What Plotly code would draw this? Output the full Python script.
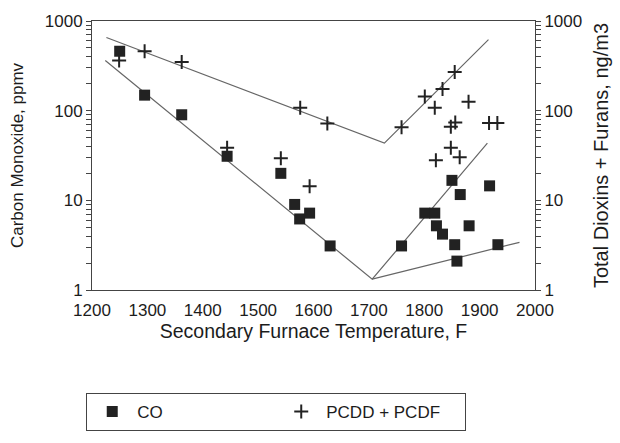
import plotly.graph_objects as go

# Carbon monoxide measurements (ppmv) vs secondary furnace temperature (F)
co_temp = [1250, 1295, 1362, 1444, 1541, 1566, 1575, 1593, 1630, 1759, 1801, 1819,
           1822, 1833, 1850, 1855, 1859, 1865, 1881, 1918, 1933]
co_ppmv = [460, 149, 90, 31, 20, 9.0, 6.2, 7.2, 3.1, 3.1, 7.2, 7.2,
           5.2, 4.2, 16.7, 3.2, 2.1, 11.6, 5.2, 14.5, 3.2]

# Total dioxins + furans (ng/m3) vs temperature
pc_temp = [1249, 1295, 1362, 1444, 1541, 1593, 1576, 1625, 1759, 1801, 1819,
           1833, 1855, 1880, 1848, 1856, 1848, 1864, 1821, 1917, 1932]
pc_ngm3 = [363, 460, 349, 38.7, 29.4, 14.4, 108, 72, 65.5, 144, 108,
           174, 270, 126, 66, 74, 38.7, 30.3, 28, 73, 73]

# Hand-fitted trend lines (temperature, value)
co_fit_temp = [1224, 1706, 1914]
co_fit_val = [363, 1.32, 43.5]
co_fit2_temp = [1706, 1972]
co_fit2_val = [1.32, 3.4]
pc_fit_temp = [1226, 1728, 1916]
pc_fit_val = [655, 43.5, 619]

x_ticks = [1200, 1300, 1400, 1500, 1600, 1700, 1800, 1900, 2000]

FONT = "Liberation Sans, Arial, sans-serif"
INK = "#1c1c1c"
LINE = "#666666"

# log tick positions: every digit, labels only on decades
log_vals, log_text = [], []
for d in [1, 10, 100]:
    for k in range(1, 10):
        log_vals.append(d * k)
        log_text.append(str(d) if k == 1 else "")
log_vals.append(1000)
log_text.append("1000")

fig = go.Figure()

for tx, vy in [(co_fit_temp, co_fit_val), (co_fit2_temp, co_fit2_val)]:
    fig.add_trace(go.Scatter(x=tx, y=vy, mode="lines", showlegend=False,
                             line=dict(color=LINE, width=1.2), hoverinfo="skip"))
fig.add_trace(go.Scatter(x=pc_fit_temp, y=pc_fit_val, mode="lines", showlegend=False,
                         line=dict(color=LINE, width=1.2), yaxis="y2", hoverinfo="skip"))

fig.add_trace(go.Scatter(
    x=co_temp, y=co_ppmv, mode="markers", name="CO",
    marker=dict(symbol="square", size=11, color="#222222"),
))
fig.add_trace(go.Scatter(
    x=pc_temp, y=pc_ngm3, mode="markers", name="PCDD + PCDF", yaxis="y2",
    marker=dict(symbol="cross-thin", size=10, line=dict(width=2, color="#222222")),
))

axis_font = dict(family=FONT, size=17, color=INK)

fig.update_layout(
    width=620, height=443,
    margin=dict(l=92, r=81, t=16, b=145),
    paper_bgcolor="white", plot_bgcolor="white",
    font=dict(family=FONT, color=INK),
    xaxis=dict(
        range=[1200, 2000], tickvals=x_ticks, ticks="", showgrid=False, zeroline=False,
        showline=True, linecolor="#444", linewidth=1, mirror=True,
        tickfont=axis_font, ticklabelstandoff=5,
        title=dict(text="Secondary Furnace Temperature, F",
                   font=dict(family=FONT, size=19.5, color=INK), standoff=2),
    ),
    yaxis=dict(
        type="log", range=[0, 3], tickvals=log_vals, ticktext=log_text,
        ticks="outside", ticklen=5, tickcolor="#444", showgrid=False, zeroline=False,
        showline=True, linecolor="#444", linewidth=1, tickfont=axis_font,
        title=dict(text="Carbon Monoxide, ppmv",
                   font=dict(family=FONT, size=17, color=INK), standoff=16),
    ),
    yaxis2=dict(
        type="log", range=[0, 3], tickvals=log_vals, ticktext=log_text,
        overlaying="y", side="right",
        ticks="outside", ticklen=5, tickcolor="#444", showgrid=False, zeroline=False,
        showline=True, linecolor="#444", linewidth=1, tickfont=axis_font,
        title=dict(text="Total Dioxins + Furans, ng/m3",
                   font=dict(family=FONT, size=20, color=INK), standoff=12),
    ),
    legend=dict(
        orientation="h", x=-0.013, y=-0.383, xanchor="left", yanchor="top",
        bordercolor="#444", borderwidth=1, bgcolor="white",
        font=dict(family=FONT, size=17, color=INK),
        itemwidth=40, entrywidth=134, entrywidthmode="pixels",
    ),
)

fig.write_html("out.html")
